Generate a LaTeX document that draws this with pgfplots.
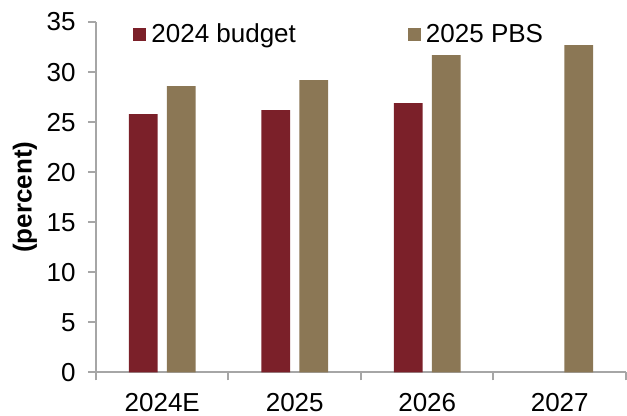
\documentclass[border=0pt]{standalone}
\usepackage{fontspec}
\setmainfont{Liberation Sans}
\usepackage{pgfplots}
\pgfplotsset{compat=1.18}
\definecolor{budget}{RGB}{123,32,41}
\definecolor{pbs}{RGB}{139,119,85}
\definecolor{axgray}{RGB}{166,166,166}
\begin{document}
\begin{tikzpicture}
\begin{axis}[
  scale only axis,
  width=265pt, height=175.25pt,
  xmin=-0.5, xmax=3.5,
  ymin=0, ymax=35,
  ytick={0,5,10,15,20,25,30,35},
  xtick={0,1,2,3},
  xticklabels={2024E,2025,2026,2027},
  minor xtick={-0.5,0.5,1.5,2.5,3.5},
  axis x line*=bottom, axis y line*=left,
  axis line style={axgray, line width=1pt, -},
  tick align=outside,
  major tick length=4pt, minor tick length=4pt,
  every tick/.style={axgray, line width=1pt},
  major x tick style={draw=none},
  /pgf/number format/assume math mode=true,
  tick label style={font=\fontsize{13}{15}\selectfont, inner sep=0pt},
  xticklabel style={yshift=-6pt},
  yticklabel style={xshift=-6pt},
  ylabel={\textbf{(percent)}},
  ylabel style={font=\fontsize{13}{15}\selectfont, at={([xshift=-35.5pt]rel axis cs:0,0.5)}, anchor=center},
  legend columns=2,
  legend style={draw=none, fill=none, font=\fontsize{13}{15}\selectfont,
    at={([xshift=15.5pt,yshift=-6.5pt]rel axis cs:0,1)}, anchor=west,
    nodes={inner sep=0pt},
    /tikz/every odd column/.append style={column sep=2.5pt},
    /tikz/every even column/.append style={column sep=56pt}},
  legend image code/.code={\fill[#1] (0pt,-3.25pt) rectangle (6.5pt,3.25pt);},
  bar width=0.218,
]
\addplot[ybar, bar shift=-0.143, fill=budget, draw=none] coordinates {(0,25.8) (1,26.2) (2,26.9)};
\addlegendentry{2024 budget}
\addplot[ybar, bar shift=0.143, fill=pbs, draw=none] coordinates {(0,28.6) (1,29.2) (2,31.7) (3,32.7)};
\addlegendentry{2025 PBS}
\end{axis}
\pgfresetboundingbox
\path ([xshift=-48pt,yshift=-21.75pt]current axis.south west) rectangle ([xshift=0.5pt,yshift=11pt]current axis.north east);
\end{tikzpicture}
\end{document}
